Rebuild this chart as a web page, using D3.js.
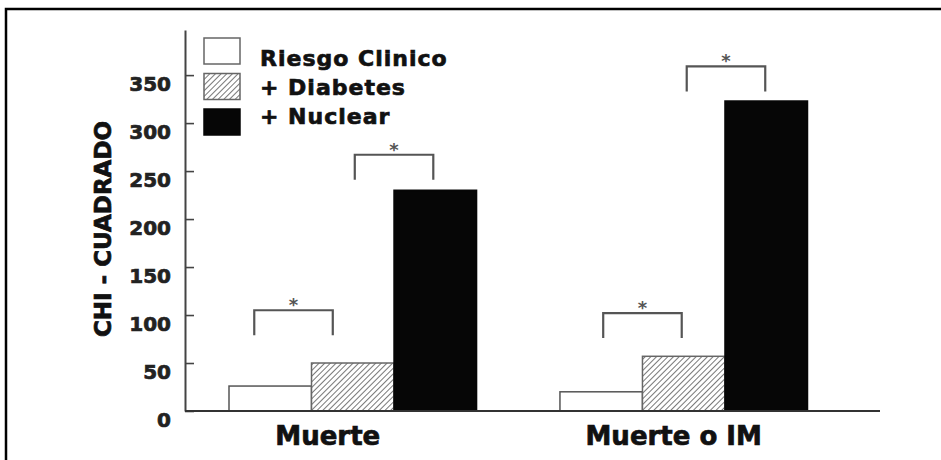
<!DOCTYPE html>
<html>
<head>
<meta charset="utf-8">
<script src="https://cdn.jsdelivr.net/npm/d3@7"></script>
<style>
  html, body { margin: 0; padding: 0; background: #fff; }
  svg { display: block; }
  text { font-family: "DejaVu Sans", sans-serif; font-weight: bold; }
  .heavy { stroke: #111; stroke-width: 0.7px; }
</style>
</head>
<body>
<div id="chart"></div>
<script>
// Outcome groups and the three nested risk models
const groups = ["Muerte", "Muerte o IM"];
const seriesNames = ["Riesgo Clinico", "+ Diabetes", "+ Nuclear"];
const legendLabels = ["Riesgo Clinico", "+ Diabetes", "+ Nuclear"];

// Chi-square values per model, one entry per group
const riesgoClinico = [26, 20];
const diabetes = [50, 57];
const nuclear = [230, 323];

const yTicks = [0, 50, 100, 150, 200, 250, 300, 350];
const yTitle = "CHI - CUADRADO";

// Significance brackets: group index, the two models compared, bracket level (chi-square units)
const bracketGroup = [0, 0, 1, 1];
const bracketFrom = [0, 1, 0, 1];
const bracketTo = [1, 2, 1, 2];
const bracketLevel = [105, 267, 102, 359];
const bracketShift = [-16, 2, 2, 3];

const seriesValues = [riesgoClinico, diabetes, nuclear];

const W = 941, H = 460;
const svg = d3.select("#chart").append("svg")
  .attr("width", W).attr("height", H);

// Hatch pattern for the "+ Diabetes" model
const defs = svg.append("defs");
const pat = defs.append("pattern")
  .attr("id", "hatch")
  .attr("patternUnits", "userSpaceOnUse")
  .attr("width", 4).attr("height", 4)
  .attr("patternTransform", "rotate(45)");
pat.append("rect").attr("width", 4).attr("height", 4).attr("fill", "#fff");
pat.append("line")
  .attr("x1", 0).attr("y1", 0).attr("x2", 0).attr("y2", 4)
  .attr("stroke", "#555").attr("stroke-width", 1.6);

const fills = ["#ffffff", "url(#hatch)", "#060606"];
const strokes = ["#555", "#666", "#060606"];

// Frame
svg.append("path")
  .attr("d", "M6,460V9H941")
  .attr("fill", "none").attr("stroke", "#000").attr("stroke-width", 2.5);

// Scales
const axisX = 185, baseY = 411, topY = 30, baseRight = 880;
const y = d3.scaleLinear().domain([0, 397]).range([baseY, topY]);
const x0 = d3.scaleBand().domain(groups).range([229, 807.5]).paddingInner(0.252).paddingOuter(0);
const x1 = d3.scaleBand().domain(d3.range(seriesNames.length)).range([0, x0.bandwidth()]).padding(0);

// Y axis: ticks point inward, labels sit a little below each tick
const yAxis = d3.axisLeft(y).tickValues(yTicks).tickSize(-9).tickSizeOuter(0).tickPadding(14);
const ya = svg.append("g").attr("transform", `translate(${axisX},0)`).call(yAxis);
ya.select(".domain").attr("stroke", "#444").attr("stroke-width", 2);
ya.selectAll(".tick line").attr("stroke", "#444").attr("stroke-width", 1.6);
ya.selectAll(".tick text")
  .attr("class", "heavy")
  .attr("dy", 15)
  .attr("fill", "#222")
  .style("stroke", "#222")
  .style("font-size", "20px")
  .style("font-family", "'DejaVu Sans', sans-serif")
  .style("font-weight", "bold");

// Y title
svg.append("text")
  .attr("class", "heavy")
  .attr("transform", `translate(111,229) rotate(-90)`)
  .attr("text-anchor", "middle")
  .attr("fill", "#111")
  .style("font-size", "23px")
  .text(yTitle);

// Bars
groups.forEach((g, gi) => {
  const gg = svg.append("g").attr("transform", `translate(${x0(g)},0)`);
  gg.selectAll("rect")
    .data(seriesValues.map((vals, si) => ({ si, v: vals[gi] })))
    .join("rect")
    .attr("x", d => x1(d.si))
    .attr("y", d => y(d.v))
    .attr("width", x1.bandwidth())
    .attr("height", d => y(0) - y(d.v))
    .attr("fill", d => fills[d.si])
    .attr("stroke", d => strokes[d.si])
    .attr("stroke-width", 1.5);
});

// Baseline
svg.append("line")
  .attr("x1", axisX).attr("x2", baseRight)
  .attr("y1", baseY).attr("y2", baseY)
  .attr("stroke", "#333").attr("stroke-width", 2.2);

// Group labels
const labelShift = [-25, -10];
svg.selectAll(".glabel")
  .data(groups)
  .join("text")
  .attr("class", "glabel heavy")
  .attr("x", (d, i) => x0(d) + x0.bandwidth() / 2 + labelShift[i])
  .attr("y", 445)
  .attr("text-anchor", "middle")
  .attr("fill", "#111")
  .style("font-size", "26px")
  .text(d => d);

// Significance brackets with star
const legDrop = 26;
bracketLevel.forEach((lv, i) => {
  const g = groups[bracketGroup[i]];
  const xa = x0(g) + x1(bracketFrom[i]) + x1.bandwidth() / 2 + bracketShift[i];
  const xb = x0(g) + x1(bracketTo[i]) + x1.bandwidth() / 2 + bracketShift[i] - 4;
  const yt = y(lv), yb = y(lv - legDrop);
  svg.append("path")
    .attr("d", `M${xa},${yb}V${yt}H${xb}V${yb}`)
    .attr("fill", "none")
    .attr("stroke", "#555")
    .attr("stroke-width", 2.2);
  svg.append("text")
    .attr("x", (xa + xb) / 2)
    .attr("y", yt + 1)
    .attr("text-anchor", "middle")
    .attr("fill", "#555")
    .style("font-size", "18px")
    .text("*");
});

// Legend
const legend = svg.append("g");
legendLabels.forEach((lab, i) => {
  legend.append("rect")
    .attr("x", 204).attr("y", 38 + i * 35.5)
    .attr("width", 36).attr("height", 26)
    .attr("fill", fills[i])
    .attr("stroke", i === 2 ? "#060606" : "#666")
    .attr("stroke-width", 1.5);
  legend.append("text")
    .attr("class", "heavy")
    .attr("x", 260).attr("y", 66 + i * 29)
    .attr("fill", "#111")
    .style("font-size", "22px")
    .style("letter-spacing", "1px")
    .text(lab);
});
</script>
</body>
</html>
